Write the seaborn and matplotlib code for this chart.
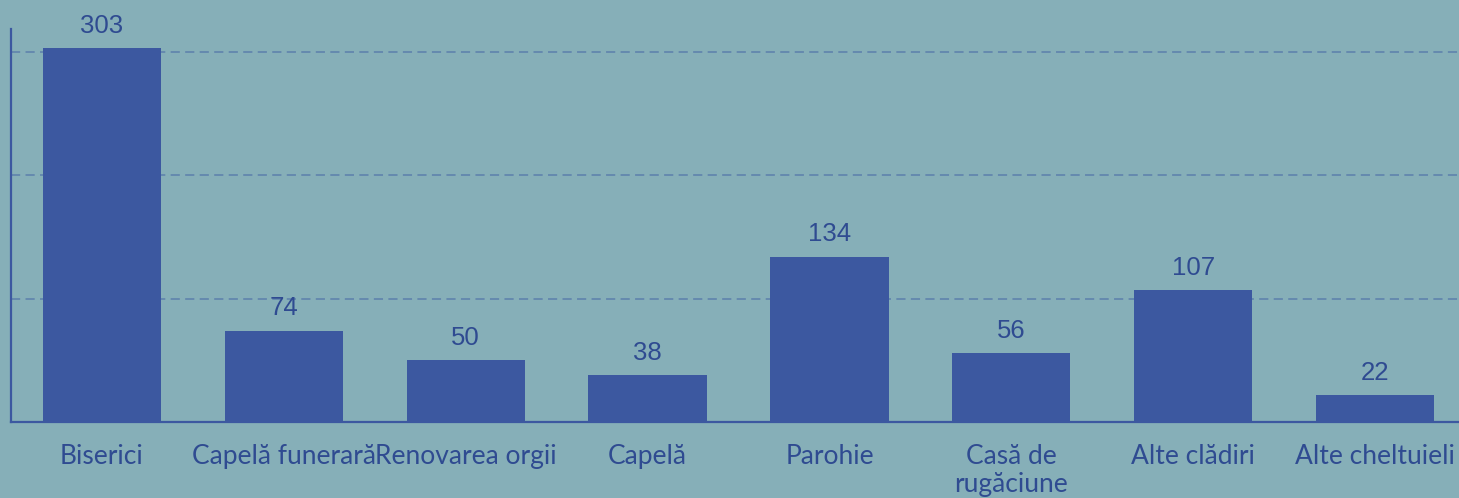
import matplotlib
matplotlib.use("Agg")
import matplotlib.pyplot as plt
import seaborn as sns
import pandas as pd

# date
categorii = ["Biserici", "Capelă funerară", "Renovarea orgii", "Capelă",
             "Parohie", "Casă de\nrugăciune", "Alte clădiri", "Alte cheltuieli"]
valori = [303, 74, 50, 38, 134, 56, 107, 22]
grila = [100, 200, 300]

fundal = "#86afb8"
albastru = "#3c58a0"
text_col = "#2f4b91"

sns.set_theme(style="white")
plt.rcParams["font.family"] = ["Lato", "DejaVu Sans"]

df = pd.DataFrame({"cat": categorii, "val": valori})

fig = plt.figure(figsize=(14.59, 4.98), dpi=100, facecolor=fundal)
ax = fig.add_axes([11 / 1459, 1 - 422 / 498, 1455 / 1459, (422 - 29) / 498])
ax.set_facecolor(fundal)

sns.barplot(data=df, x="cat", y="val", color=albastru, saturation=1,
            width=0.65, linewidth=0, ax=ax, zorder=3)

ax.set_xlim(-0.5, len(categorii) - 0.5)
ax.set_ylim(0, 318.5)
ax.set_yticks(grila)
ax.set_yticklabels([])
ax.yaxis.grid(True, linestyle=(0, (6, 3.5)), linewidth=1.1, color="#5c7fab", zorder=0)
ax.xaxis.grid(False)
ax.set_xlabel("")
ax.set_ylabel("")

for s in ["top", "right"]:
    ax.spines[s].set_visible(False)
for s in ["left", "bottom"]:
    ax.spines[s].set_color(albastru)
    ax.spines[s].set_linewidth(1.6)

ax.tick_params(axis="both", length=0)
ax.tick_params(axis="x", pad=16, labelsize=19, labelcolor=text_col)
for lbl in ax.get_xticklabels():
    lbl.set_linespacing(1.15)

for i, v in enumerate(valori):
    ax.annotate(str(v), (i, v), xytext=(0, 11), textcoords="offset points",
                ha="center", va="baseline", fontsize=18.5, color=text_col,
                family=["Liberation Sans", "DejaVu Sans"])

fig.savefig("out.png", dpi=100, facecolor=fundal)
